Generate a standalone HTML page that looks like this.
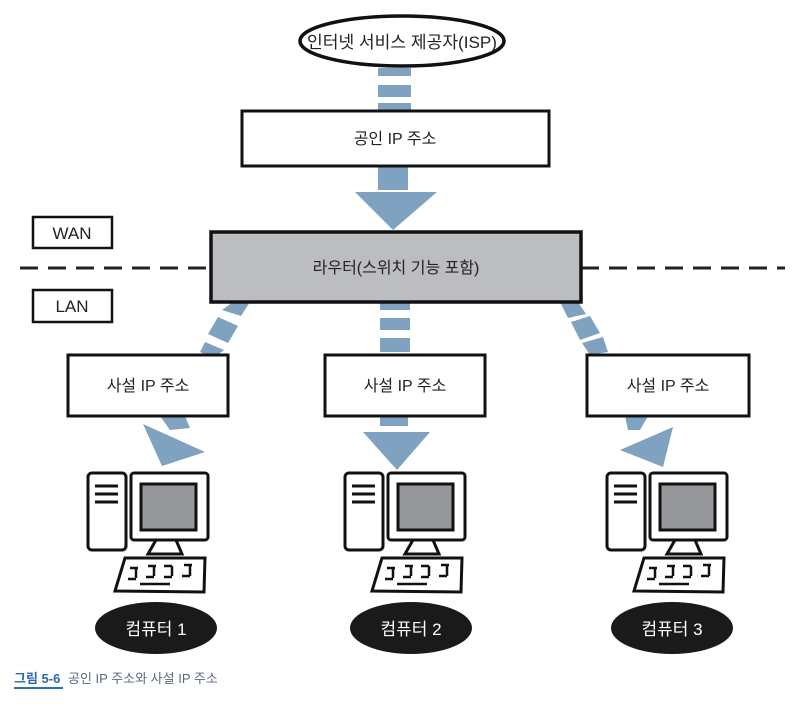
<!DOCTYPE html>
<html><head><meta charset="utf-8"><style>
body{margin:0;background:#fff;width:801px;height:702px;overflow:hidden}
text{font-family:"Liberation Sans","Noto Sans CJK KR",sans-serif}
</style></head><body>
<svg width="801" height="702" viewBox="0 0 801 702" xmlns="http://www.w3.org/2000/svg">
<defs>
<g id="pc">
 <rect x="0" y="0" width="38" height="77" rx="4" fill="#fff" stroke="#111" stroke-width="3"/>
 <line x1="7" y1="13" x2="30" y2="13" stroke="#111" stroke-width="3"/>
 <line x1="7" y1="21" x2="30" y2="21" stroke="#111" stroke-width="3"/>
 <line x1="7" y1="29" x2="30" y2="29" stroke="#111" stroke-width="3"/>
 <rect x="43" y="0" width="77" height="67" rx="3" fill="#fff" stroke="#111" stroke-width="3"/>
 <rect x="53" y="11" width="55" height="46" fill="#96979a" stroke="#111" stroke-width="3"/>
 <path d="M68 67 L88 67 L94 81 L60 81 Z" fill="#fff" stroke="#111" stroke-width="3"/>
 <path d="M37 85 L117 85 L116 119 L27 118 Z" fill="#fff" stroke="#111" stroke-width="3"/>
 <path d="M42 95 h8 M60 93 h8 M76 93 h8 M96 92 h8 M40 106 h8 M58 104 h8 M76 104 h8 M94 103 h8 M52 111 h30 M48 95 v10 M66 93 v10 M84 93 v10 M102 92 v11" stroke="#111" stroke-width="2.5" fill="none"/>
</g>
</defs>
<g fill="#7fa2c0">
 <rect x="378" y="68" width="33" height="8"/>
 <rect x="378" y="85" width="33" height="12"/>
 <rect x="378" y="103" width="33" height="8"/>
 <rect x="378" y="166" width="30" height="24"/>
 <polygon points="355,192 437,192 393,230"/>
 <rect x="380" y="302" width="30" height="8"/>
 <rect x="380" y="318" width="30" height="12"/>
 <rect x="380" y="338" width="30" height="14"/>
 <rect x="380" y="416" width="28" height="10"/>
 <polygon points="363,432 430,432 397,470"/>
 <polygon points="233,302 250,302 241,316 222,310"/>
 <polygon points="218,317 238,326 228,343 208,334"/>
 <polygon points="205,342 224,350 214,358 200,352"/>
 <polygon points="160,416 185,416 190,428 170,430"/>
 <polygon points="143,424 205,452 162,466"/>
 <polygon points="560,302 578,302 586,314 568,318"/>
 <polygon points="571,322 590,316 600,333 580,340"/>
 <polygon points="582,343 603,337 608,352 590,355"/>
 <polygon points="625,416 648,416 640,430 628,430"/>
 <polygon points="620,450 673,427 663,467"/>
</g>
<ellipse cx="402" cy="41" rx="102" ry="25" fill="#fff" stroke="#111" stroke-width="3.5"/>
<text x="402" y="48" font-size="17" text-anchor="middle" fill="#222" textLength="190" lengthAdjust="spacingAndGlyphs">인터넷 서비스 제공자(ISP)</text>
<rect x="242" y="111" width="307" height="55" fill="#fff" stroke="#111" stroke-width="3"/>
<text x="395" y="144" font-size="16" text-anchor="middle" fill="#222">공인 IP 주소</text>
<line x1="20" y1="268" x2="211" y2="268" stroke="#222" stroke-width="3" stroke-dasharray="18,10"/>
<line x1="581" y1="268" x2="785" y2="268" stroke="#222" stroke-width="3" stroke-dasharray="18,10"/>
<rect x="211" y="232" width="370" height="70" fill="#bcbdc0" stroke="#111" stroke-width="3.5"/>
<text x="396" y="273" font-size="16" text-anchor="middle" fill="#222">라우터(스위치 기능 포함)</text>
<rect x="33" y="217" width="79" height="31" fill="#fff" stroke="#111" stroke-width="2.5"/>
<text x="72" y="239" font-size="17" text-anchor="middle" fill="#222">WAN</text>
<rect x="33" y="290" width="79" height="32" fill="#fff" stroke="#111" stroke-width="2.5"/>
<text x="72" y="312" font-size="17" text-anchor="middle" fill="#222">LAN</text>
<rect x="68" y="355" width="160" height="61" fill="#fff" stroke="#111" stroke-width="3"/>
<text x="148" y="391" font-size="16" text-anchor="middle" fill="#222">사설 IP 주소</text>
<rect x="325" y="355" width="160" height="61" fill="#fff" stroke="#111" stroke-width="3"/>
<text x="405" y="391" font-size="16" text-anchor="middle" fill="#222">사설 IP 주소</text>
<rect x="587" y="355" width="162" height="61" fill="#fff" stroke="#111" stroke-width="3"/>
<text x="668" y="391" font-size="16" text-anchor="middle" fill="#222">사설 IP 주소</text>
<use href="#pc" transform="translate(88,473)"/>
<use href="#pc" transform="translate(345,473)"/>
<use href="#pc" transform="translate(607,473)"/>
<ellipse cx="156" cy="628" rx="61" ry="26" fill="#1a1a1a"/>
<text x="156" y="635" font-size="17" text-anchor="middle" fill="#fff">컴퓨터 1</text>
<ellipse cx="411" cy="628" rx="61" ry="26" fill="#1a1a1a"/>
<text x="411" y="635" font-size="17" text-anchor="middle" fill="#fff">컴퓨터 2</text>
<ellipse cx="672" cy="628" rx="61" ry="26" fill="#1a1a1a"/>
<text x="672" y="635" font-size="17" text-anchor="middle" fill="#fff">컴퓨터 3</text>
<text x="14" y="683" font-size="13" font-weight="bold" fill="#2a6aa8">그림 5-6</text>
<text x="68" y="683" font-size="13" fill="#5a6a80">공인 IP 주소와 사설 IP 주소</text>
<rect x="14" y="687" width="49" height="2" fill="#2a72b8"/>
</svg>
</body></html>
